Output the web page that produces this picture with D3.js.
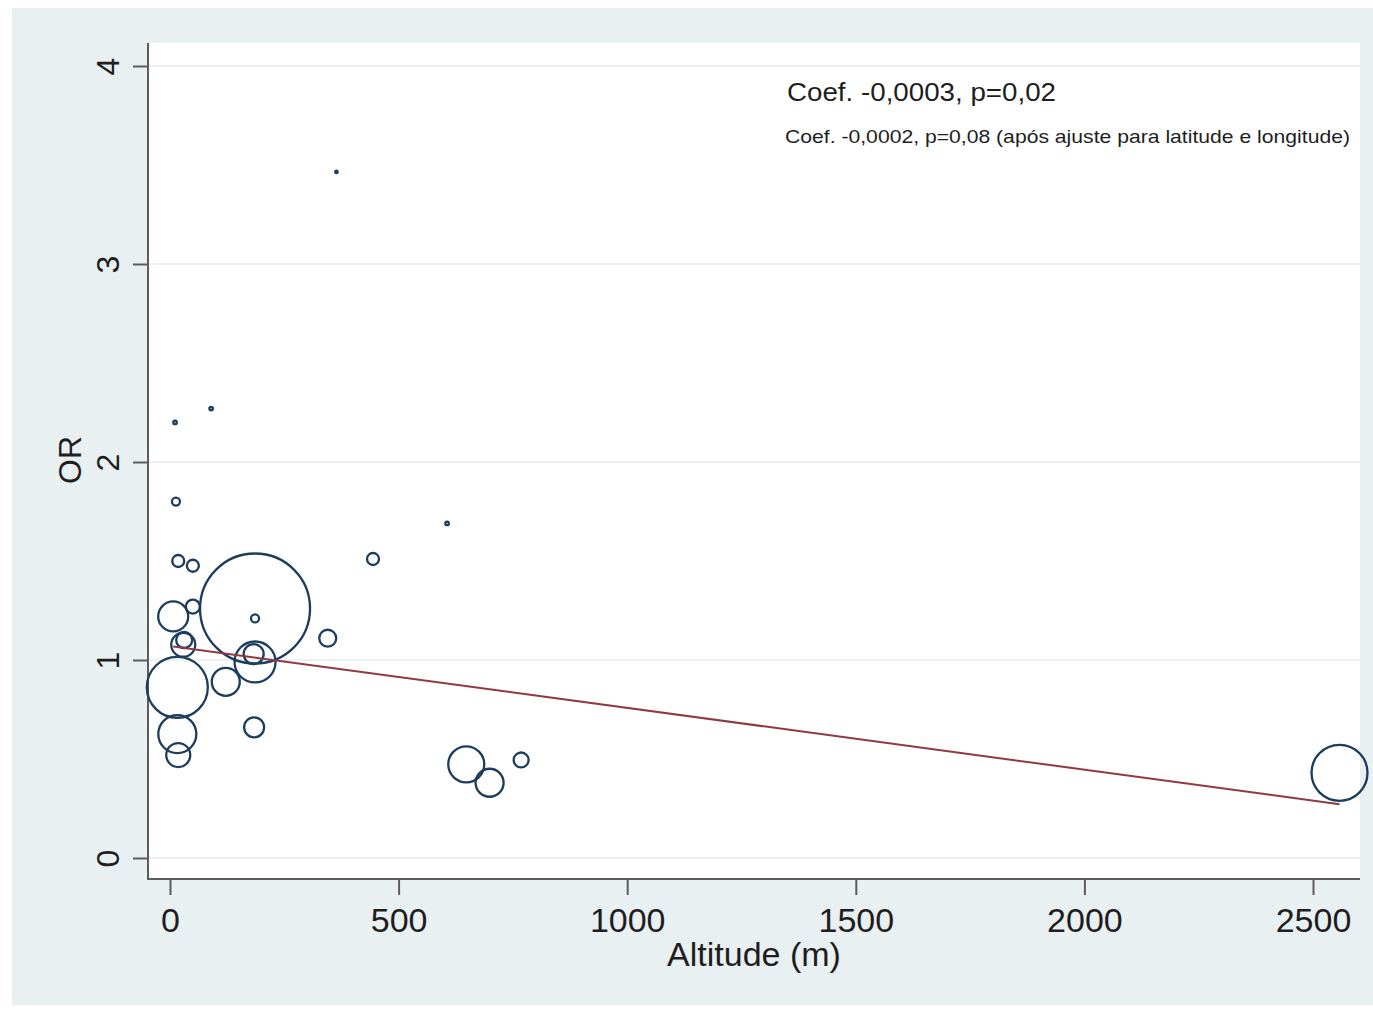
<!DOCTYPE html>
<html lang="pt">
  <head>
    <meta charset="UTF-8" />
    <title>OR vs Altitude</title>
    <script src="https://d3js.org/d3.v7.min.js"></script>
    <style>
      body { margin: 0; background: #fff; }
      svg { display: block; font-family: "Liberation Sans", Arial, sans-serif; }
    </style>
  </head>
  <body>
    <svg width="1373" height="1011"></svg>
    <script>
      // data
      const altitude = [13, 18, 50, 186, 186, 7, 50, 29, 31, 16, 16, 18, 122, 186, 183, 184, 345, 606, 444, 648, 699, 768, 364, 11, 90, 2558];
      const oddsRatio = [1.80, 1.50, 1.476, 1.26, 1.21, 1.22, 1.27, 1.077, 1.101, 0.862, 0.626, 0.52, 0.89, 0.99, 1.03, 0.66, 1.11, 1.69, 1.51, 0.473, 0.38, 0.495, 3.465, 2.20, 2.27, 0.43];
      const weight = [16, 36, 36, 3025, 16, 225, 49, 144, 64, 930, 361, 144, 196, 420, 100, 100, 72, 3, 36, 324, 196, 56, 1.5, 3, 3, 784];
      const xTicks = [0, 500, 1000, 1500, 2000, 2500];
      const yTicks = [0, 1, 2, 3, 4];
      const fitX = [7, 2558];
      const fitY = [1.068, 0.272];

      let svg = d3.select("svg");

      // graph region
      svg.append("rect")
        .attr("x", 12).attr("y", 8)
        .attr("width", 1361).attr("height", 997)
        .attr("fill", "#e9f0f2");

      // plot region
      svg.append("rect")
        .attr("x", 148).attr("y", 43)
        .attr("width", 1212).attr("height", 836)
        .attr("fill", "#fff");

      let x = d3.scaleLinear().domain([0, 2500]).range([170, 1313]);
      let y = d3.scaleLinear().domain([0, 4]).range([858, 66]);
      let r = d3.scaleSqrt().domain([0, 3025]).range([0, 55]);

      // grid
      svg.append("g")
        .selectAll("line")
        .data(yTicks)
        .enter()
        .append("line")
        .attr("x1", 149).attr("x2", 1360)
        .attr("y1", (d) => y(d)).attr("y2", (d) => y(d))
        .attr("stroke", "#e6ecee")
        .attr("stroke-width", 1.5);

      // y axis
      let yAxis = svg.append("g")
        .attr("transform", "translate(148,0)")
        .call(d3.axisLeft(y).tickValues(yTicks).tickSize(15).tickFormat(d3.format("d")));
      yAxis.select(".domain").remove();
      yAxis.selectAll("line").attr("stroke", "#5c5c5c").attr("stroke-width", 2);
      yAxis.selectAll("text")
        .attr("x", null).attr("dy", null)
        .attr("transform", "translate(-29,0) rotate(-90)")
        .attr("text-anchor", "middle")
        .attr("font-size", 32)
        .attr("fill", "#1e1e1e");

      // x axis
      let xAxis = svg.append("g")
        .attr("transform", "translate(0,879)")
        .call(d3.axisBottom(x).tickValues(xTicks).tickSize(16).tickFormat(d3.format("d")));
      xAxis.select(".domain").remove();
      xAxis.selectAll("line").attr("stroke", "#5c5c5c").attr("stroke-width", 2);
      xAxis.selectAll("text")
        .attr("y", 53).attr("dy", null)
        .attr("font-size", 34)
        .attr("fill", "#1e1e1e");

      // axis lines
      svg.append("line")
        .attr("x1", 148).attr("x2", 148).attr("y1", 43).attr("y2", 880)
        .attr("stroke", "#5c5c5c").attr("stroke-width", 2);
      svg.append("line")
        .attr("x1", 147).attr("x2", 1360).attr("y1", 879).attr("y2", 879)
        .attr("stroke", "#5c5c5c").attr("stroke-width", 2);

      // axis titles
      svg.append("text")
        .attr("transform", "translate(81,460) rotate(-90)")
        .attr("text-anchor", "middle")
        .attr("font-size", 32)
        .attr("fill", "#1e1e1e")
        .text("OR");
      svg.append("text")
        .attr("x", 754).attr("y", 966)
        .attr("text-anchor", "middle")
        .attr("font-size", 34)
        .attr("fill", "#1e1e1e")
        .text("Altitude (m)");

      // bubbles
      let points = altitude.map((a, i) => ({ a: a, or: oddsRatio[i], w: weight[i] }));
      svg.append("g")
        .selectAll("circle")
        .data(points)
        .enter()
        .append("circle")
        .attr("cx", (d) => x(d.a))
        .attr("cy", (d) => y(d.or))
        .attr("r", (d) => r(d.w))
        .attr("fill", "none")
        .attr("stroke", "#1c3d5e")
        .attr("stroke-width", 2.3);

      // fitted line
      let line = d3.line().x((d) => x(d[0])).y((d) => y(d[1]));
      svg.append("path")
        .datum(fitX.map((v, i) => [v, fitY[i]]))
        .attr("d", line)
        .attr("fill", "none")
        .attr("stroke", "#8f3a40")
        .attr("stroke-width", 2);

      // annotations
      svg.append("text")
        .attr("x", 787).attr("y", 101)
        .attr("font-size", 26)
        .attr("textLength", 269)
        .attr("lengthAdjust", "spacingAndGlyphs")
        .attr("fill", "#1e1e1e")
        .text("Coef. -0,0003, p=0,02");
      svg.append("text")
        .attr("x", 785).attr("y", 143)
        .attr("font-size", 19)
        .attr("textLength", 565)
        .attr("lengthAdjust", "spacingAndGlyphs")
        .attr("fill", "#1e1e1e")
        .text("Coef. -0,0002, p=0,08 (após ajuste para latitude e longitude)");
    </script>
  </body>
</html>
